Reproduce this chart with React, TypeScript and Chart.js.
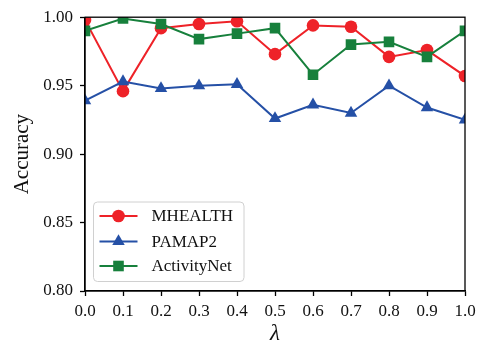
import React, { useEffect, useRef } from "react";
import { Chart, registerables } from "chart.js";

Chart.register(...registerables);

const lambdas = [0.0, 0.1, 0.2, 0.3, 0.4, 0.5, 0.6, 0.7, 0.8, 0.9, 1.0];
const mhealth = [0.998, 0.946, 0.992, 0.995, 0.997, 0.973, 0.994, 0.993, 0.971, 0.976, 0.957];
const pamap2 = [0.939, 0.953, 0.948, 0.950, 0.951, 0.926, 0.936, 0.930, 0.950, 0.934, 0.925];
const activityNet = [0.990, 0.999, 0.995, 0.984, 0.988, 0.992, 0.958, 0.980, 0.982, 0.971, 0.990];

const seriesNames = ["MHEALTH", "PAMAP2", "ActivityNet"];
const seriesColors = ["#ee2228", "#2550a6", "#17803c"];
const seriesStyles = ["circle", "triangle", "rect"];
const seriesRadius = [6.3, 7.2, 7.5];

const FONT = "'Liberation Serif', 'Times New Roman', serif";

const framePlugin = {
  id: "frame",
  afterDraw(chart: any) {
    const { ctx, chartArea } = chart;
    ctx.save();
    ctx.strokeStyle = "#000";
    ctx.lineWidth = 1.3;
    ctx.strokeRect(chartArea.left, chartArea.top, chartArea.right - chartArea.left, chartArea.bottom - chartArea.top);
    ctx.restore();
  },
};

function drawMarker(ctx: CanvasRenderingContext2D, style: string, x: number, y: number, r: number) {
  ctx.beginPath();
  if (style === "circle") {
    ctx.arc(x, y, r, 0, Math.PI * 2);
  } else if (style === "triangle") {
    let rad = 0;
    ctx.moveTo(x + Math.sin(rad) * r, y - Math.cos(rad) * r);
    rad += (2 * Math.PI) / 3;
    ctx.lineTo(x + Math.sin(rad) * r, y - Math.cos(rad) * r);
    rad += (2 * Math.PI) / 3;
    ctx.lineTo(x + Math.sin(rad) * r, y - Math.cos(rad) * r);
    ctx.closePath();
  } else {
    const s = r * Math.SQRT1_2;
    ctx.rect(x - s, y - s, 2 * s, 2 * s);
  }
  ctx.fill();
}

const legendPlugin = {
  id: "innerLegend",
  afterDraw(chart: any) {
    const { ctx, chartArea } = chart;
    const x = chartArea.left + 8.5;
    const w = 150.5;
    const h = 79.5;
    const y = chartArea.bottom - 9.5 - h;
    ctx.save();
    ctx.beginPath();
    const r = 4;
    ctx.moveTo(x + r, y);
    ctx.lineTo(x + w - r, y);
    ctx.arcTo(x + w, y, x + w, y + r, r);
    ctx.lineTo(x + w, y + h - r);
    ctx.arcTo(x + w, y + h, x + w - r, y + h, r);
    ctx.lineTo(x + r, y + h);
    ctx.arcTo(x, y + h, x, y + h - r, r);
    ctx.lineTo(x, y + r);
    ctx.arcTo(x, y, x + r, y, r);
    ctx.closePath();
    ctx.fillStyle = "rgba(255,255,255,0.85)";
    ctx.fill();
    ctx.strokeStyle = "#d0d0d0";
    ctx.lineWidth = 1;
    ctx.stroke();
    const rows = [14, 39.5, 64];
    chart.data.datasets.forEach((ds: any, i: number) => {
      const cy = y + rows[i];
      ctx.strokeStyle = ds.borderColor;
      ctx.lineWidth = 2;
      ctx.beginPath();
      ctx.moveTo(x + 6, cy);
      ctx.lineTo(x + 44, cy);
      ctx.stroke();
      ctx.fillStyle = ds.backgroundColor;
      drawMarker(ctx, ds.pointStyle, x + 25, cy, ds.pointRadius);
      ctx.fillStyle = "#111";
      ctx.font = `17px ${FONT}`;
      ctx.textBaseline = "middle";
      ctx.textAlign = "left";
      ctx.fillText(ds.label, x + 58, cy + 1);
    });
    ctx.restore();
  },
};

export default function App() {
  const ref = useRef<HTMLCanvasElement>(null);
  useEffect(() => {
    if (!ref.current) return;
    const all = [mhealth, pamap2, activityNet];
    const chart = new Chart(ref.current, {
      type: "line",
      data: {
        datasets: all.map((vals, i) => ({
          label: seriesNames[i],
          data: lambdas.map((l, j) => ({ x: l, y: vals[j] })),
          borderColor: seriesColors[i],
          backgroundColor: seriesColors[i],
          borderWidth: 2,
          pointStyle: seriesStyles[i] as any,
          pointRadius: seriesRadius[i],
          pointBorderWidth: 0,
          pointHoverRadius: seriesRadius[i],
          tension: 0,
          order: all.length - i,
        })),
      },
      options: {
        responsive: false,
        animation: false,
        events: [],
        layout: { padding: { left: 0, right: 19, top: 12, bottom: 0 } },
        plugins: { legend: { display: false }, tooltip: { enabled: false } },
        scales: {
          x: {
            type: "linear",
            min: 0,
            max: 1,
            afterFit(scale: any) {
              scale.height = 54;
            },
            ticks: {
              stepSize: 0.1,
              callback: (v: any) => Number(v).toFixed(1),
              font: { family: FONT, size: 17 },
              color: "#111",
              padding: 5,
              maxRotation: 0,
              autoSkip: false,
            },
            grid: { drawOnChartArea: false, tickLength: 5, color: "#000", tickWidth: 1.3 },
            border: { display: true, color: "#000", width: 1.3 },
            title: {
              display: true,
              text: "λ",
              font: { family: FONT, size: 23, style: "italic", lineHeight: 1 },
              color: "#111",
              padding: { top: 0, bottom: 0 },
            },
          },
          y: {
            min: 0.8,
            max: 1.0,
            afterFit(scale: any) {
              scale.width = 85;
            },
            ticks: {
              stepSize: 0.05,
              callback: (v: any) => Number(v).toFixed(2),
              font: { family: FONT, size: 17 },
              color: "#111",
              padding: 7,
            },
            grid: { drawOnChartArea: false, tickLength: 5, color: "#000", tickWidth: 1.3 },
            border: { display: true, color: "#000", width: 1.3 },
            title: {
              display: true,
              text: "Accuracy",
              font: { family: FONT, size: 21, lineHeight: 1 },
              color: "#111",
              padding: { top: 12, bottom: 0 },
            },
          },
        },
      },
      plugins: [framePlugin, legendPlugin],
    });
    return () => chart.destroy();
  }, []);
  return (
    <div style={{ position: "fixed", left: 0, top: 0, width: 484, height: 345, background: "#fff" }}>
      <canvas ref={ref} width={484} height={345} />
    </div>
  );
}
